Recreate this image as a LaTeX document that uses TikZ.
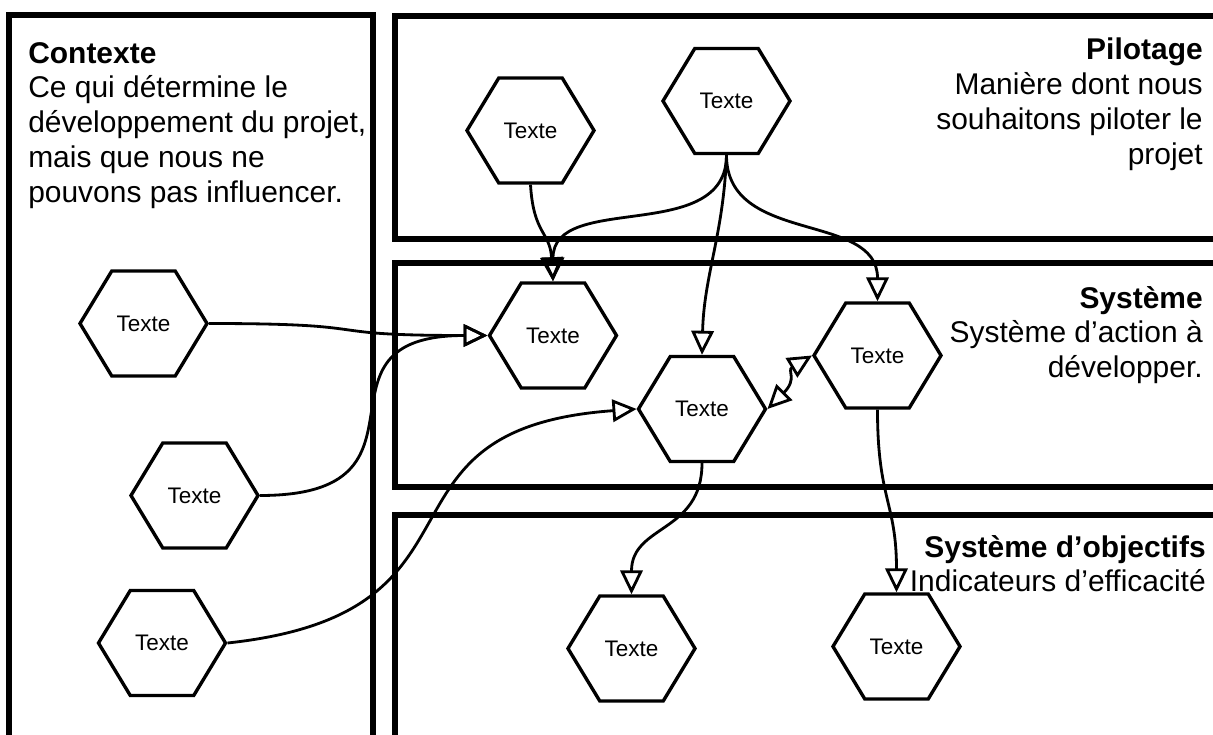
\documentclass[tikz,border=0pt]{standalone}
\usepackage{fontspec}
\setmainfont{Liberation Sans}
\usetikzlibrary{arrows.meta,shapes.symbols}

\tikzset{
  >={Triangle[open,length=0.6cm,width=0.56cm]},
  zone/.style={line width=3.8pt},
  zonetitle/.style={inner sep=0pt, font=\fontsize{21.3}{24.7}\selectfont},
  hexa/.style={signal, signal to=east and west, signal pointer angle=117.6,
    draw, line width=2.4pt, minimum width=3.175cm, minimum height=2.625cm,
    inner sep=0pt, font=\fontsize{16}{19}\selectfont},
  link/.style={line width=2pt, ->}
}

\begin{document}
\begin{tikzpicture}[x=0.025cm, y=0.025cm]
        \useasboundingbox (0,0) rectangle (1213,-735);
        \clip (0,0) rectangle (1213,-735);

        % zones
        \draw [zone] (9,-760) -- (9,-15) -- (373,-15) -- (373,-760);
        \draw [zone] (395,-16) rectangle (1240,-239);
        \draw [zone] (395,-263) rectangle (1240,-487);
        \draw [zone] (395,-515) rectangle (1240,-760);

        \node [zonetitle, anchor=north west, align=left] (ctxtitle) at (28,-42)
          {\textbf{Contexte}\\Ce qui détermine le\\développement du projet,\\mais que nous ne\\pouvons pas influencer.};
        \node [zonetitle, anchor=north east, align=right] (piltitle) at (1203,-38)
          {\textbf{Pilotage}\\Manière dont nous\\souhaitons piloter le\\projet};
        \node [zonetitle, anchor=north east, align=right] (systitle) at (1203,-286)
          {\textbf{Système}\\Système d’action à\\développer.};
        \node [zonetitle, anchor=north east, align=right] (objtitle) at (1206,-535)
          {\textbf{Système d’objectifs}\\Indicateurs d’efficacité};

        % hexagones
        \node [hexa] (ctxA) at (143.5,-323.5) {Texte};
        \node [hexa] (ctxB) at (194.5,-495.5) {Texte};
        \node [hexa] (ctxC) at (162,-643) {Texte};

        \node [hexa] (pilA) at (530.5,-130.5) {Texte};
        \node [hexa] (pilB) at (726.5,-101) {Texte};

        \node [hexa] (sysA) at (553,-335.5) {Texte};
        \node [hexa] (sysB) at (702,-409) {Texte};
        \node [hexa] (sysC) at (877.5,-355.5) {Texte};

        \node [hexa] (objA) at (631.5,-648.5) {Texte};
        \node [hexa] (objB) at (896.5,-646.5) {Texte};

        % liens
        \draw [link] (ctxA.east) .. controls +(180,0) and +(-180,0) .. (sysA.west);
        \draw [link] (ctxB.east) .. controls +(190,0) and +(-190,0) .. (sysA.west);
        \draw [link] (ctxC.east) .. controls +(280,30) and +(-280,-20) .. (sysB.west);

        \draw [link] (pilA.south) .. controls +(3,-50) and +(-3,50) .. (sysA.north);
        \draw [link] (pilB.south) .. controls +(0,-90) and +(0,90) .. (sysA.north);
        \draw [link] (pilB.south) .. controls +(-3,-80) and +(2,80) .. (sysB.north);
        \draw [link] (pilB.south) .. controls +(0,-90) and +(0,90) .. (sysC.north);

        \draw [link, <->] (sysB.east) .. controls +(30,30) and +(-25,-15) .. (sysC.west);

        \draw [link] (sysB.south) .. controls +(0,-70) and +(0,70) .. (objA.north);
        \draw [link] (sysC.south) .. controls +(0,-90) and +(0,90) .. (objB.north);
      \end{tikzpicture}
\end{document}
